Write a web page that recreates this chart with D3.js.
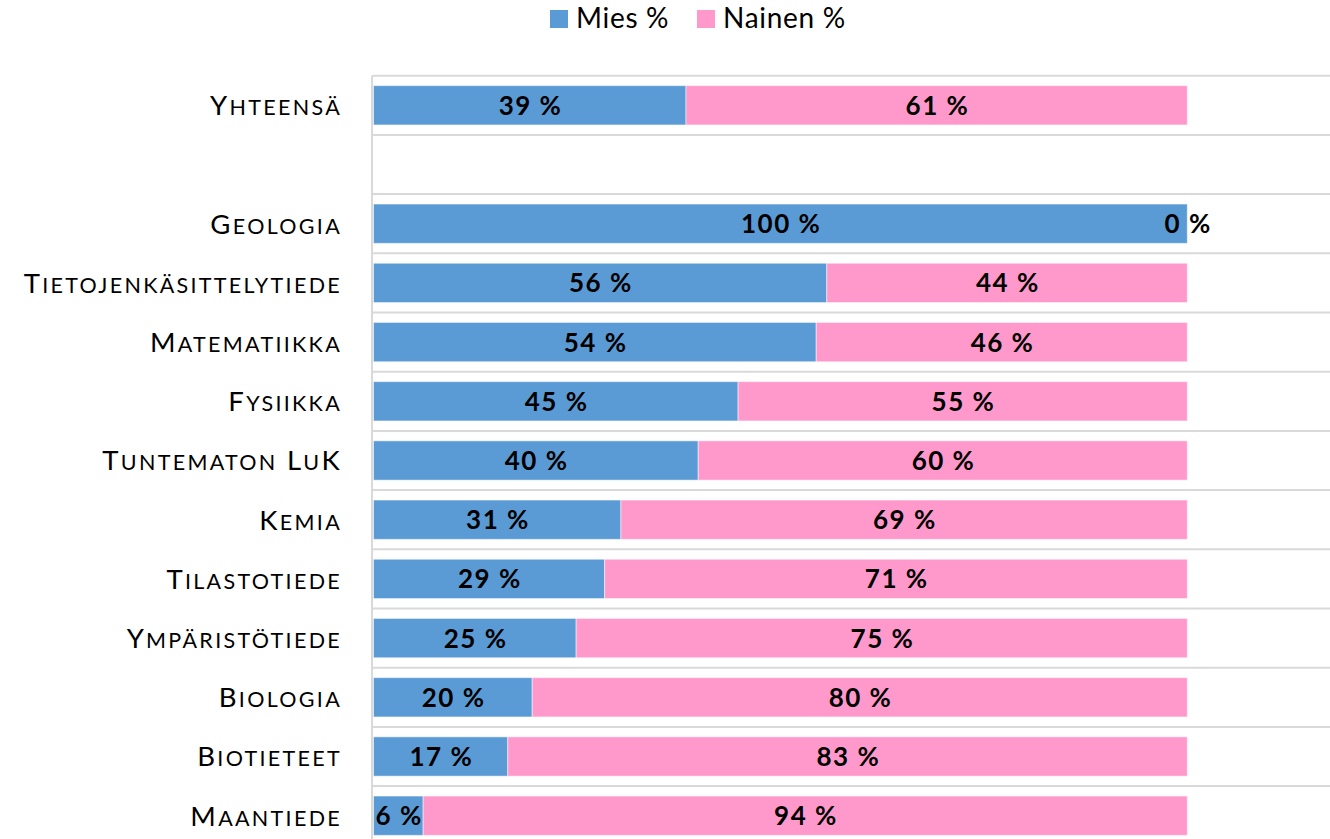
<!DOCTYPE html>
<html>
<head>
<meta charset="utf-8">
<script src="https://cdn.jsdelivr.net/npm/d3@7"></script>
<style>
  body { margin: 0; background: #fff; }
  svg { display: block; font-family: Lato, "Open Sans", sans-serif; }
</style>
</head>
<body>
<div id="chart"></div>
<script>
// rows top to bottom, "" is the empty spacer row under the total
var categories = ["Yhteensä", "", "Geologia", "Tietojenkäsittelytiede", "Matematiikka",
  "Fysiikka", "Tuntematon LuK", "Kemia", "Tilastotiede", "Ympäristötiede",
  "Biologia", "Biotieteet", "Maantiede"];

// bar lengths (share, %)
var mies = [38.4, null, 100, 55.7, 54.4, 44.8, 39.9, 30.4, 28.4, 24.9, 19.5, 16.5, 6.1];
var nainen = [61.6, null, 0, 44.3, 45.6, 55.2, 60.1, 69.6, 71.6, 75.1, 80.5, 83.5, 93.9];

// the printed data labels
var miesLabels = ["39 %", "", "100 %", "56 %", "54 %", "45 %", "40 %", "31 %", "29 %", "25 %", "20 %", "17 %", "6 %"];
var nainenLabels = ["61 %", "", "0 %", "44 %", "46 %", "55 %", "60 %", "69 %", "71 %", "75 %", "80 %", "83 %", "94 %"];

var series = ["Mies %", "Nainen %"];
var colors = ["#5b9bd5", "#ff99cc"];

var width = 1330, height = 839;

var svg = d3.select("#chart").append("svg")
  .attr("width", width)
  .attr("height", height);

var x = d3.scaleLinear()
  .domain([0, 100])
  .range([373.5, 1187.3]);

var step = 59.2, top0 = 75.7;
var y = d3.scaleBand()
  .domain(categories.map(function (d, i) { return i; }))
  .range([top0, top0 + step * categories.length])
  .paddingInner(0.336)
  .paddingOuter(0.168);

// horizontal gridlines between rows
svg.append("g")
  .selectAll("line")
  .data(d3.range(categories.length + 1))
  .enter().append("line")
  .attr("x1", 372)
  .attr("x2", width)
  .attr("y1", function (i) { return top0 + i * y.step(); })
  .attr("y2", function (i) { return top0 + i * y.step(); })
  .attr("stroke", "#d9d9d9")
  .attr("stroke-width", 2);

// vertical category axis line
svg.append("line")
  .attr("x1", 372).attr("x2", 372)
  .attr("y1", top0).attr("y2", height)
  .attr("stroke", "#d9d9d9")
  .attr("stroke-width", 2);

// stacked rows
var rows = categories.map(function (c, i) {
  return { i: i, name: c, m: mies[i], n: nainen[i], ml: miesLabels[i], nl: nainenLabels[i] };
}).filter(function (d) { return d.m !== null; });

var bars = svg.append("g");
bars.selectAll("rect.mies")
  .data(rows)
  .enter().append("rect")
  .attr("class", "mies")
  .attr("x", x(0))
  .attr("y", function (d) { return y(d.i); })
  .attr("width", function (d) { return x(d.m) - x(0); })
  .attr("height", y.bandwidth())
  .attr("fill", colors[0]);

bars.selectAll("rect.nainen")
  .data(rows.filter(function (d) { return d.n > 0; }))
  .enter().append("rect")
  .attr("class", "nainen")
  .attr("x", function (d) { return x(d.m); })
  .attr("y", function (d) { return y(d.i); })
  .attr("width", function (d) { return x(d.m + d.n) - x(d.m); })
  .attr("height", y.bandwidth())
  .attr("fill", colors[1]);

// thin light seams like the original
bars.selectAll("rect")
  .attr("stroke", "#ffffff")
  .attr("stroke-opacity", 0.5)
  .attr("stroke-width", 1);

// data labels
var labels = svg.append("g")
  .attr("font-weight", "bold")
  .attr("font-size", 26)
  .attr("letter-spacing", 1.5)
  .attr("text-anchor", "middle")
  .attr("fill", "#000");

labels.selectAll("text.m")
  .data(rows)
  .enter().append("text")
  .attr("x", function (d) { return (x(0) + x(d.m)) / 2 + 0.8; })
  .attr("y", function (d) { return y(d.i) + y.bandwidth() / 2 + 9.5; })
  .text(function (d) { return d.ml; });

labels.selectAll("text.n")
  .data(rows)
  .enter().append("text")
  .attr("x", function (d) { return (x(d.m) + x(d.m + d.n)) / 2 + 0.8; })
  .attr("y", function (d) { return y(d.i) + y.bandwidth() / 2 + 9.5; })
  .text(function (d) { return d.nl; });

// category labels in small caps
var cat = svg.append("g")
  .attr("text-anchor", "end")
  .attr("fill", "#000");

cat.selectAll("text")
  .data(categories.map(function (c, i) { return { i: i, name: c }; }).filter(function (d) { return d.name; }))
  .enter().append("text")
  .attr("x", 342)
  .attr("y", function (d) { return y(d.i) + y.bandwidth() / 2 + 9.8; })
  .attr("letter-spacing", 2.3)
  .each(function (d) {
    var t = d3.select(this);
    var words = d.name.split(" ");
    words.forEach(function (w, k) {
      t.append("tspan").attr("font-size", 27.5).text((k ? " " : "") + w.charAt(0).toUpperCase());
      var rest = w.slice(1);
      // keep the lowercase-vs-uppercase look of "LuK"
      for (var j = 0; j < rest.length; j++) {
        var ch = rest.charAt(j);
        if (ch === ch.toUpperCase() && ch !== ch.toLowerCase()) {
          t.append("tspan").attr("font-size", 27.5).text(ch);
        } else {
          t.append("tspan").attr("font-size", 21.5).text(ch.toUpperCase());
        }
      }
    });
  });

// legend
var legend = svg.append("g").attr("font-size", 28).attr("letter-spacing", 0.7);
var legendX = [550, 697];
series.forEach(function (s, k) {
  legend.append("rect")
    .attr("x", legendX[k]).attr("y", 10)
    .attr("width", 18).attr("height", 18)
    .attr("fill", colors[k]);
  legend.append("text")
    .attr("x", legendX[k] + 26).attr("y", 27.8)
    .text(s);
});
</script>
</body>
</html>
